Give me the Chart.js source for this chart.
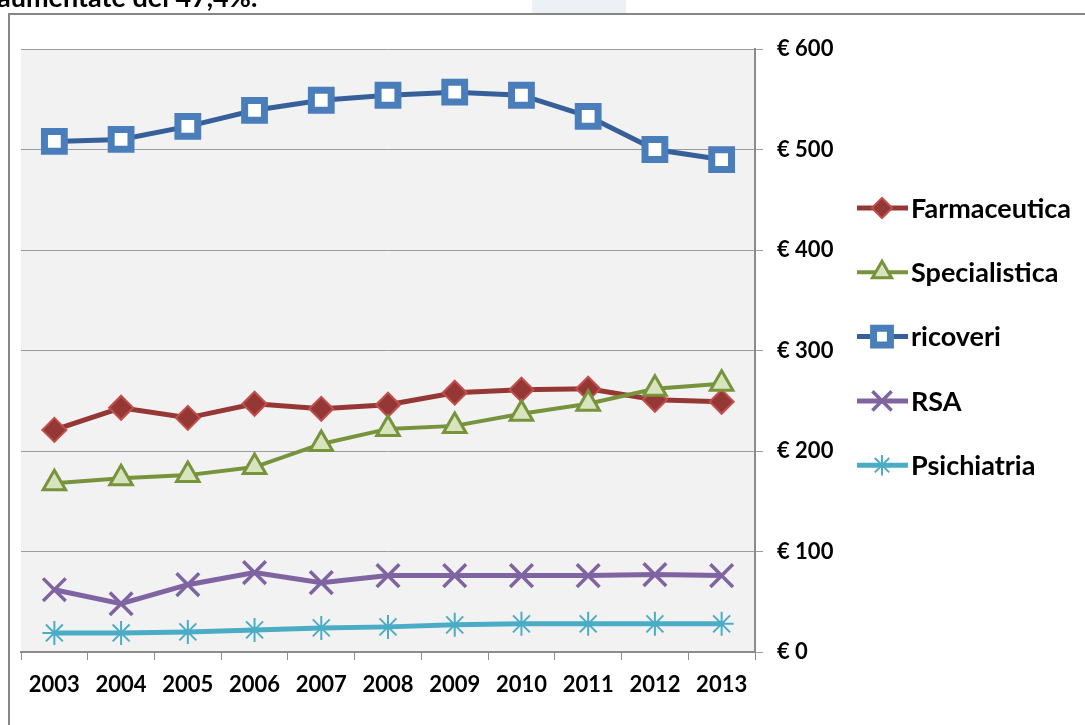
<!DOCTYPE html>
<html>
<head>
<meta charset="utf-8">
<title>Spesa pro capite</title>
<script src="https://cdn.jsdelivr.net/npm/chart.js@4.4.0/dist/chart.umd.min.js"></script>
<style>
  html, body { margin: 0; padding: 0; background: #fff; }
  canvas { display: block; }
</style>
</head>
<body>
<canvas id="chart" width="1085" height="725"></canvas>
<script>
// values (euro)
const years = ['2003', '2004', '2005', '2006', '2007', '2008', '2009', '2010', '2011', '2012', '2013'];
const farmaceutica = [221, 243, 233, 247, 242, 246, 258, 261, 262, 251, 249];
const specialistica = [168, 173, 176, 184, 207, 222, 225, 237, 247, 262, 267];
const ricoveri = [508, 510, 523, 539, 549, 554, 557, 554, 533, 500, 490];
const rsa = [62, 48, 67, 79, 69, 76, 76, 76, 76, 77, 76];
const psichiatria = [19, 19, 20, 22, 24, 25, 27, 28, 28, 28, 28];
const yMax = 600;
const yStep = 100;

const FONT = 'Lato, "Open Sans", sans-serif';
Chart.defaults.font.family = FONT;

// white page, cut-off text line, outer frame and grey plot area
const background = {
  id: 'background',
  beforeDraw(chart) {
    const { ctx, chartArea: a, width, height } = chart;
    ctx.save();
    ctx.fillStyle = '#fff';
    ctx.fillRect(0, 0, width, height);
    ctx.fillStyle = '#edf0f4';
    ctx.fillRect(532, 0, 94, 13);
    ctx.fillStyle = '#000';
    ctx.font = 'bold 27px ' + FONT;
    ctx.textBaseline = 'alphabetic';
    ctx.fillText('aumentate del 47,4%.', -3, 7);
    ctx.strokeStyle = '#868686';
    ctx.lineWidth = 2;
    ctx.beginPath();
    ctx.moveTo(9, height);
    ctx.lineTo(9, 14);
    ctx.lineTo(width, 14);
    ctx.stroke();
    ctx.fillStyle = '#f2f2f2';
    ctx.fillRect(a.left, a.top, a.right - a.left, a.bottom - a.top);
    ctx.restore();
  }
};

// legend on the right: line sample with marker, then label
const sideLegend = {
  id: 'sideLegend',
  afterDraw(chart) {
    const ctx = chart.ctx;
    ctx.save();
    chart.data.datasets.forEach((ds, i) => {
      const y = 208 + i * 64.3;
      ctx.strokeStyle = ds.borderColor;
      ctx.lineWidth = ds.borderWidth;
      ctx.beginPath();
      ctx.moveTo(857, y);
      ctx.lineTo(908, y);
      ctx.stroke();
      ctx.fillStyle = ds.pointBackgroundColor;
      ctx.strokeStyle = ds.pointBorderColor;
      ctx.lineWidth = ds.pointBorderWidth;
      Chart.helpers.drawPoint(ctx, {
        pointStyle: ds.pointStyle,
        radius: ds.pointRadius * 0.85,
        borderWidth: ds.pointBorderWidth,
        rotation: 0
      }, 882, y);
      ctx.fillStyle = '#000';
      ctx.font = 'bold 27px ' + FONT;
      ctx.textAlign = 'left';
      ctx.textBaseline = 'middle';
      ctx.fillText(ds.label, 911, y + 1);
    });
    ctx.restore();
  }
};

new Chart(document.getElementById('chart'), {
  type: 'line',
  data: {
    labels: years,
    datasets: [
      {
        label: 'Farmaceutica',
        data: farmaceutica,
        order: 5,
        borderColor: '#953735',
        borderWidth: 5,
        pointStyle: 'rectRot',
        pointRadius: 12,
        pointBackgroundColor: '#953735',
        pointBorderColor: '#c0504d',
        pointBorderWidth: 2
      },
      {
        label: 'Specialistica',
        data: specialistica,
        order: 4,
        borderColor: '#77933c',
        borderWidth: 4,
        pointStyle: 'triangle',
        pointRadius: 13,
        pointBackgroundColor: '#d7e4bd',
        pointBorderColor: '#77933c',
        pointBorderWidth: 3
      },
      {
        label: 'ricoveri',
        data: ricoveri,
        order: 3,
        borderColor: '#37609a',
        borderWidth: 5,
        pointStyle: 'rect',
        pointRadius: 14,
        pointBackgroundColor: '#ffffff',
        pointBorderColor: '#4a7ebb',
        pointBorderWidth: 7
      },
      {
        label: 'RSA',
        data: rsa,
        order: 2,
        borderColor: '#8064a2',
        borderWidth: 5,
        pointStyle: 'crossRot',
        pointRadius: 16,
        pointBackgroundColor: '#8064a2',
        pointBorderColor: '#8064a2',
        pointBorderWidth: 3.5
      },
      {
        label: 'Psichiatria',
        data: psichiatria,
        order: 1,
        borderColor: '#4bacc6',
        borderWidth: 5,
        pointStyle: 'star',
        pointRadius: 12,
        pointBackgroundColor: '#4bacc6',
        pointBorderColor: '#4bacc6',
        pointBorderWidth: 2
      }
    ]
  },
  options: {
    responsive: false,
    animation: false,
    devicePixelRatio: 1,
    layout: { padding: { left: 20, top: 49, right: 0, bottom: 0 } },
    elements: { line: { tension: 0 } },
    plugins: {
      legend: { display: false },
      tooltip: { enabled: false }
    },
    scales: {
      x: {
        offset: true,
        grid: {
          offset: true,
          drawOnChartArea: false,
          drawTicks: true,
          tickLength: 8,
          color: '#8c8c8c',
          lineWidth: 1
        },
        border: { display: true, color: '#8c8c8c', width: 2 },
        ticks: {
          color: '#000',
          padding: 12,
          maxRotation: 0,
          autoSkip: false,
          font: { size: 22, weight: 'bold' }
        },
        afterFit(scale) { scale.height = 73; }
      },
      y: {
        position: 'right',
        min: 0,
        max: yMax,
        grid: {
          color: '#9c9c9c',
          lineWidth: 1,
          tickLength: 8
        },
        border: { display: true, color: '#8c8c8c', width: 2 },
        ticks: {
          stepSize: yStep,
          color: '#000',
          padding: 14,
          font: { size: 22, weight: 'bold' },
          callback: v => '€ ' + v
        },
        afterFit(scale) { scale.width = 330; }
      }
    }
  },
  plugins: [background, sideLegend]
});
</script>
</body>
</html>
